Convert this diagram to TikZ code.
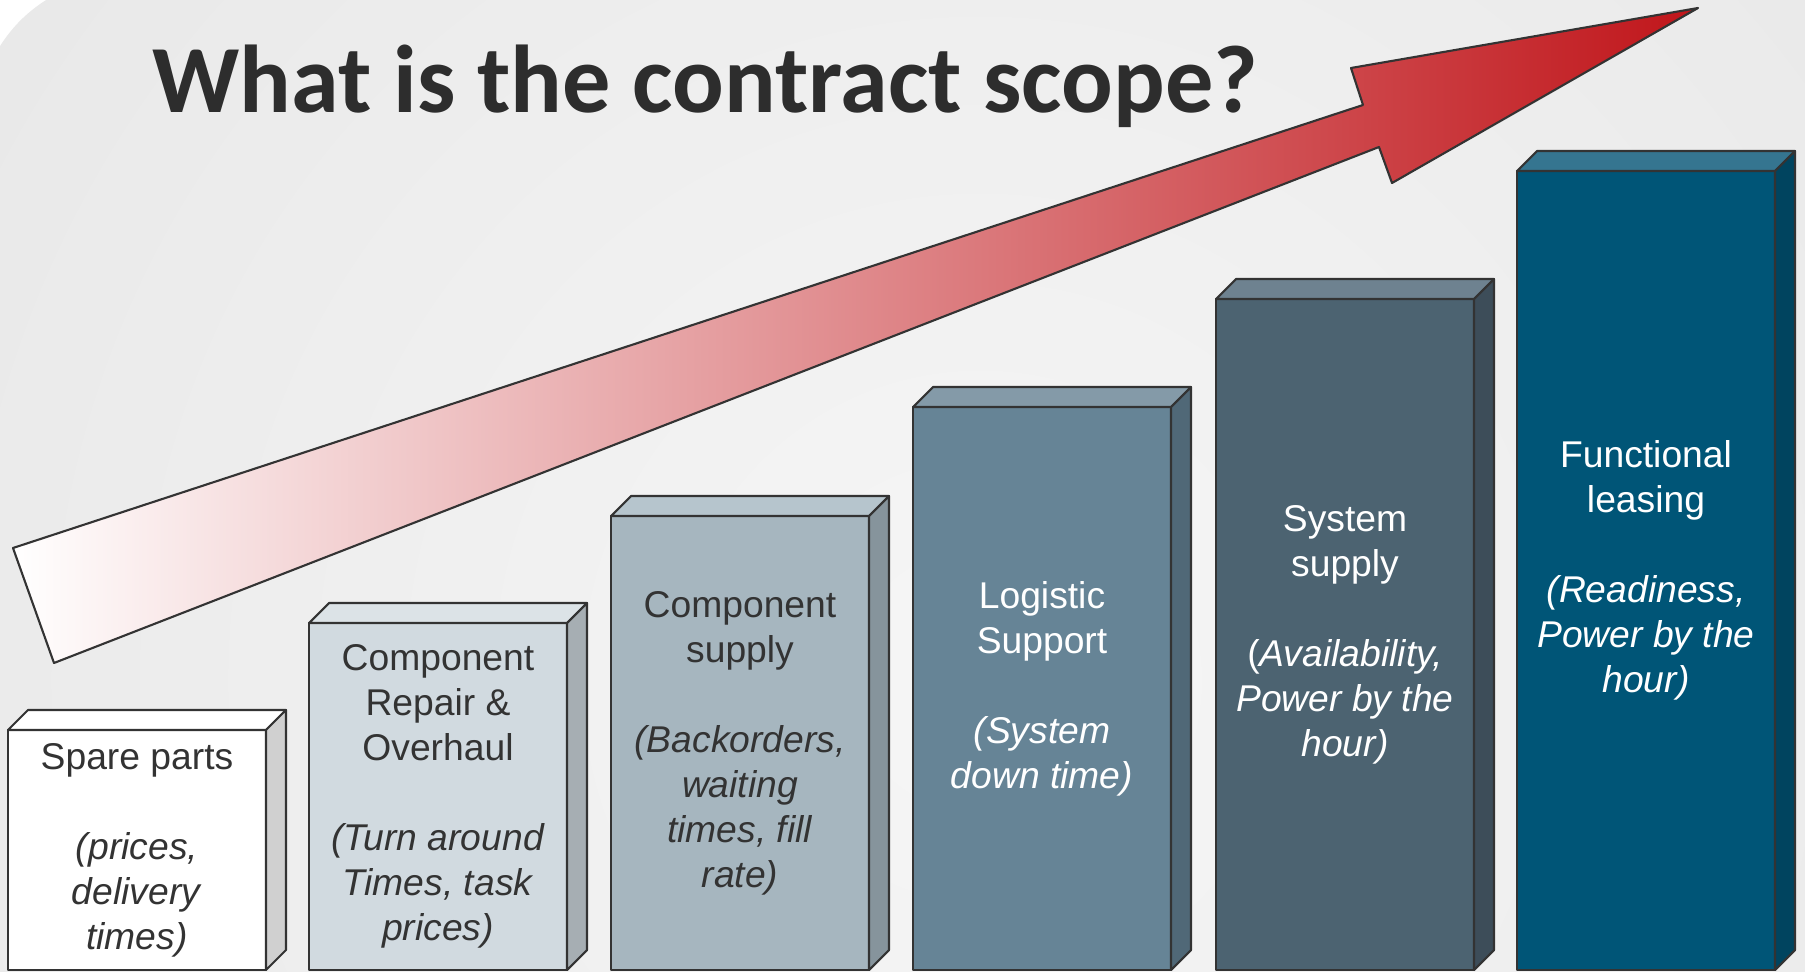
\documentclass[tikz,border=0pt]{standalone}
\usepackage{fontspec}
\setmainfont{Liberation Sans}
\newfontfamily\titlefont{Carlito}
\usepackage{tikz}
\usetikzlibrary{positioning,calc}

\definecolor{ink}{HTML}{333333}
\definecolor{titleink}{HTML}{2D2D2D}
\definecolor{bgin}{HTML}{F6F6F6}
\definecolor{bgout}{HTML}{DCDCDC}
\definecolor{arrowred}{HTML}{C0151A}
% front / top / side of each bar
\definecolor{sparefront}{HTML}{FFFFFF}  \definecolor{sparetop}{HTML}{FFFFFF}  \definecolor{spareside}{HTML}{D0D0D0}
\definecolor{repairfront}{HTML}{D1DAE0} \definecolor{repairtop}{HTML}{DCE3E7} \definecolor{repairside}{HTML}{A6AEB3}
\definecolor{compfront}{HTML}{A6B6BF}   \definecolor{comptop}{HTML}{B6C5CD}   \definecolor{compside}{HTML}{86949C}
\definecolor{logfront}{HTML}{668496}    \definecolor{logtop}{HTML}{849AA8}    \definecolor{logside}{HTML}{506877}
\definecolor{sysfront}{HTML}{4C6371}    \definecolor{systop}{HTML}{6E8290}    \definecolor{sysside}{HTML}{3D4D59}
\definecolor{leasefront}{HTML}{005577}  \definecolor{leasetop}{HTML}{357590}  \definecolor{leaseside}{HTML}{00445F}

% top and right faces of a bar node
\newcommand{\barfaces}[3]{%
  \draw[edge,fill=#2] (#1.north west) -- ++(20,-20) -- ($(#1.north east)+(20,-20)$) -- (#1.north east) -- cycle;
  \draw[edge,fill=#3] (#1.north east) -- ++(20,-20) -- ($(#1.south east)+(20,-20)$) -- (#1.south east) -- cycle;}

\begin{document}
\begin{tikzpicture}[x=0.1mm,y=-0.1mm,
    edge/.style={draw=ink,line width=0.6pt,line join=round},
    bar/.style={edge,rectangle,anchor=south west,inner sep=0pt,outer sep=0pt,
                minimum width=25.8mm,align=center,
                font=\fontsize{10.6}{12.8}\selectfont},
    dark/.style={bar,text=ink},
    light/.style={bar,text=white}
]
\useasboundingbox (0,0) rectangle (1805,972);

% slide background
\fill[white] (0,0) rectangle (1805,972);
\begin{scope}
  \clip (0,0) rectangle (1805,972);
  \clip[rounded corners=14.5mm] (-22,-22) rectangle (1950,1100);
  \shade[inner color=bgin,outer color=bgout] (980,680) circle (2300);
\end{scope}

\node[anchor=base west,inner sep=0pt,text=titleink,
      font=\titlefont\bfseries\fontsize{27.4}{30}\selectfont] (title) at (152,113)
     {What is the contract scope?};

% rising arrow
\draw[edge,left color=white,middle color=arrowred!17!white,right color=arrowred]
  (13,548) -- (1363,105) -- (1351,68) -- (1698,8) -- (1392,183) -- (1379,147) -- (54,663) -- cycle;

% bars
\node[dark,fill=sparefront,minimum height=24mm] (spare) at (8,970)
  {Spare parts\\[12.8pt] \textit{(prices,}\\ \textit{delivery}\\ \textit{times)}};
\node[dark,fill=repairfront,minimum height=34.7mm] (repair) at (309,970)
  {Component\\ Repair \&\\ Overhaul\\[12.8pt] \textit{(Turn around}\\ \textit{Times, task}\\ \textit{prices)}};
\node[dark,fill=compfront,minimum height=45.4mm] (comp) at (611,970)
  {Component\\ supply\\[12.8pt] \textit{(Backorders,}\\ \textit{waiting}\\ \textit{times, fill}\\ \textit{rate)}};
\node[light,fill=logfront,minimum height=56.3mm] (logistic) at (913,970)
  {Logistic\\ Support\\[12.8pt] \textit{(System}\\ \textit{down time)}};
\node[light,fill=sysfront,minimum height=67.1mm] (system) at (1216,970)
  {System\\ supply\\[12.8pt] (\textit{Availability,}\\ \textit{Power by the}\\ \textit{hour)}};
\node[light,fill=leasefront,minimum height=79.9mm] (leasing) at (1517,970)
  {Functional\\ leasing\\[12.8pt] \textit{(Readiness,}\\ \textit{Power by the}\\ \textit{hour)}};

\barfaces{spare}{sparetop}{spareside}
\barfaces{repair}{repairtop}{repairside}
\barfaces{comp}{comptop}{compside}
\barfaces{logistic}{logtop}{logside}
\barfaces{system}{systop}{sysside}
\barfaces{leasing}{leasetop}{leaseside}
\end{tikzpicture}
\end{document}
